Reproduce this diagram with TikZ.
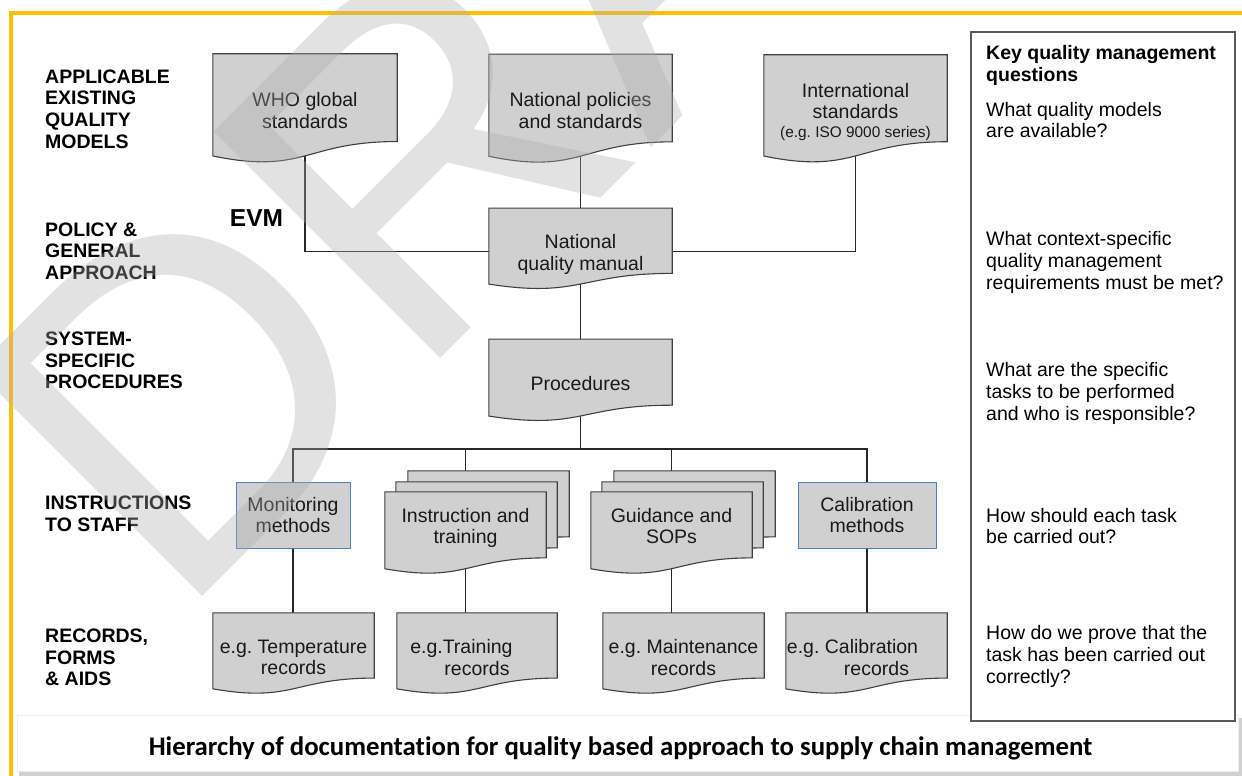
\documentclass[tikz,border=0pt]{standalone}
\usepackage{fontspec}
\setmainfont{Liberation Sans}
\newfontfamily\capfont{Carlito}[Ligatures=NoCommon]
\usetikzlibrary{calc}
\frenchspacing
\pgfdeclarelayer{paper}
\pgfdeclarelayer{conn}
\pgfdeclarelayer{docs}
\pgfsetlayers{paper,conn,docs,main}
\definecolor{docfill}{RGB}{208,208,208}
\definecolor{docline}{RGB}{64,64,64}
\definecolor{conline}{RGB}{40,40,40}
\definecolor{methblue}{RGB}{79,129,189}
\definecolor{frameyellow}{RGB}{255,192,0}
\definecolor{wmgray}{gray}{0.68}
\definecolor{qline}{RGB}{90,90,90}
\tikzset{
  docnode/.style={rectangle, draw=none, inner sep=0pt},
  doctext/.style={inner sep=0pt, align=center, text=black!90,
    font=\fontsize{19.5}{21.7}\selectfont},
  methbox/.style={rectangle, draw=methblue, fill=docfill, line width=0.9pt, inner sep=0pt,
    align=center, text=black!90, font=\fontsize{19.5}{21.7}\selectfont},
  docshape/.style={fill=docfill, draw=docline, line width=1.1pt},
  conn/.style={draw=conline, line width=1.1pt},
  lbl/.style={anchor=west, align=left, inner sep=0pt, font=\fontsize{19.5}{21.7}\selectfont\bfseries},
  qtext/.style={anchor=west, align=left, inner sep=0pt, font=\fontsize{19.5}{21.7}\selectfont},
}
\newcommand\docpathat[2]{%
  \path[docshape] ($(#1.north west)+(#2)$) -- ($(#1.north east)+(#2)$)
    -- ($(#1.north east)!0.802!(#1.south east)+(#2)$)
    .. controls ($(#1.north)!0.802!(#1.south)+(#2)$) and ($(#1.north)!1.1075!(#1.south)+(#2)$)
    .. ($(#1.north west)!0.934!(#1.south west)+(#2)$) -- cycle;}
\begin{document}
\begin{tikzpicture}[x=1pt,y=-1pt]
\useasboundingbox (0,0) rectangle (1242,776);
\begin{pgfonlayer}{paper}
  \fill[white] (0,0) rectangle (1242,776);
\end{pgfonlayer}
% frame
\draw[frameyellow, line width=4pt] (10.5,776) -- (10.5,13.5) -- (1242,13.5);

% left level labels
\node[lbl] (l1) at (45,109) {APPLICABLE\\EXISTING\\QUALITY\\MODELS};
\node[lbl] (l2) at (45,251) {POLICY \&\\GENERAL\\APPROACH};
\node[lbl] (l3) at (45,360.5) {SYSTEM-\\SPECIFIC\\PROCEDURES};
\node[lbl] (l4) at (45,514) {INSTRUCTIONS\\TO STAFF};
\node[lbl] (l5) at (45,657.5) {RECORDS,\\FORMS\\\& AIDS};
\node[inner sep=0pt, font=\fontsize{24.5}{28}\selectfont\bfseries] (evm) at (256.5,218) {EVM};

% document shapes (named frames)
\node[docnode, minimum width=184pt, minimum height=109pt] (who) at (305,108.5) {};
\node[docnode, minimum width=183pt, minimum height=109pt] (nps) at (580.5,108.8) {};
\node[docnode, minimum width=183pt, minimum height=108pt] (ints) at (855.5,109) {};
\node[docnode, minimum width=183pt, minimum height=81pt] (nqm) at (580.5,248.8) {};
\node[docnode, minimum width=183pt, minimum height=82pt] (proc) at (580.5,380.3) {};
\node[methbox, minimum width=114pt, minimum height=66pt] (mon) at (293,515) {Monitoring\\methods};
\node[docnode, minimum width=161pt, minimum height=82pt] (inst) at (465.5,533) {};
\node[docnode, minimum width=161pt, minimum height=82pt] (guid) at (671.5,533) {};
\node[methbox, minimum width=138pt, minimum height=66pt] (calm) at (867,515) {Calibration\\methods};
\node[docnode, minimum width=161pt, minimum height=81pt] (rec1) at (293.5,653.5) {};
\node[docnode, minimum width=160pt, minimum height=81pt] (rec2) at (477,653.5) {};
\node[docnode, minimum width=161pt, minimum height=81pt] (rec3) at (683.5,653.5) {};
\node[docnode, minimum width=161pt, minimum height=81pt] (rec4) at (866.5,653.5) {};

% texts of the documents
\node[doctext] (who-t) at ($(who)+(0,2)$) {WHO global\\standards};
\node[doctext] (nps-t) at ($(nps)+(0,1.5)$) {National policies\\and standards};
\node[doctext] (ints-t) at ($(ints)+(0,3)$) {International\\standards\\[-2.5pt]\fontsize{15.4}{19}\selectfont(e.g. ISO 9000 series)};
\node[doctext] (nqm-t) at ($(nqm)+(0,6)$) {National\\quality manual};
\node[doctext] (proc-t) at ($(proc)+(0,3)$) {Procedures};
\node[doctext] (inst-t) at ($(inst)+(0,-5)$) {Instruction and\\training};
\node[doctext] (guid-t) at ($(guid)+(0,-7)$) {Guidance and\\SOPs};
\node[doctext] (rec1-t) at ($(rec1)+(0,4)$) {e.g. Temperature\\records};
\node[doctext] (rec2-t) at ($(rec2)+(0,4)$) {e.g.Training\hspace*{1.6em}\\records};
\node[doctext] (rec3-t) at ($(rec3)+(0,4)$) {e.g. Maintenance\\records};
\node[doctext] (rec4-t) at ($(rec4)+(0,4)$) {e.g. Calibration\hspace*{28pt}\\\hspace*{20pt}records};

\begin{pgfonlayer}{docs}
  \docpathat{who}{0,0}
  \docpathat{nps}{0,0}
  \docpathat{ints}{0,0}
  \docpathat{nqm}{0,0}
  \docpathat{proc}{0,0}
  \docpathat{inst}{23,-21}
  \docpathat{inst}{11,-10}
  \docpathat{inst}{0,0}
  \docpathat{guid}{23,-21}
  \docpathat{guid}{11,-10}
  \docpathat{guid}{0,0}
  \docpathat{rec1}{0,0}
  \docpathat{rec2}{0,0}
  \docpathat{rec3}{0,0}
  \docpathat{rec4}{0,0}
\end{pgfonlayer}

% connectors
\coordinate (join) at ($(nqm.center)+(0,3)$);
\coordinate (bus) at (580.5,449);
\begin{pgfonlayer}{conn}
  \draw[conn] (who.center) |- (join) -| (ints.center);
  \draw[conn] (nps.center) -- (nqm.center);
  \draw[conn] (nqm.center) -- (proc.center);
  \draw[conn] (proc.center) -- (bus);
  \draw[conn] (mon.center) |- (bus) -| (calm.center);
  \draw[conn] (inst.center) -- (inst.center |- bus);
  \draw[conn] (guid.center) -- (guid.center |- bus);
  \draw[conn] (mon.center) -- (mon.center |- rec1.center);
  \draw[conn] (inst.center) -- (inst.center |- rec2.center);
  \draw[conn] (guid.center) -- (guid.center |- rec3.center);
  \draw[conn] (calm.center) -- (calm.center |- rec4.center);
\end{pgfonlayer}

% caption bar
\fill[black!35] (20,719) rectangle (1241,775);
\fill[black!18] (19,718) rectangle (1242,776);
\node[rectangle, fill=white, draw=black!7, inner sep=0pt, minimum width=1221pt, minimum height=56pt] (capbar) at (627.5,743) {};
\node[inner sep=0pt, font=\capfont\bfseries\fontsize{26.8}{30}\selectfont] (cap) at (620.5,748) {Hierarchy of documentation for quality based approach to supply chain management};

% question box
\node[rectangle, draw=qline, fill=white, line width=1.3pt, minimum width=264pt, minimum height=689pt, inner sep=0pt] (qbox) at (1103,376.5) {};
\node[qtext, font=\fontsize{19.5}{21.7}\selectfont\bfseries] (q0) at (986,65.5) {Key quality management\\questions};
\node[qtext] (q1) at (986,120) {What quality models\\are available?};
\node[qtext] (q2) at (986,262.5) {What context-specific\\quality management\\requirements must be met?};
\node[qtext] (q3) at (986,393.5) {What are the specific\\tasks to be performed\\and who is responsible?};
\node[qtext] (q4) at (986,526) {How should each task\\be carried out?};
\node[qtext] (q5) at (986,656.5) {How do we prove that the\\task has been carried out\\correctly?};

% watermark
\begin{scope}
  \clip (0,0) rectangle (1242,776);
  \node[anchor=base west, inner sep=0pt, rotate=45, text=wmgray, text opacity=0.35,
    font=\fontsize{466}{466}\selectfont] (wm) at (175,624) {DRAFT};
\end{scope}
\end{tikzpicture}
\end{document}
